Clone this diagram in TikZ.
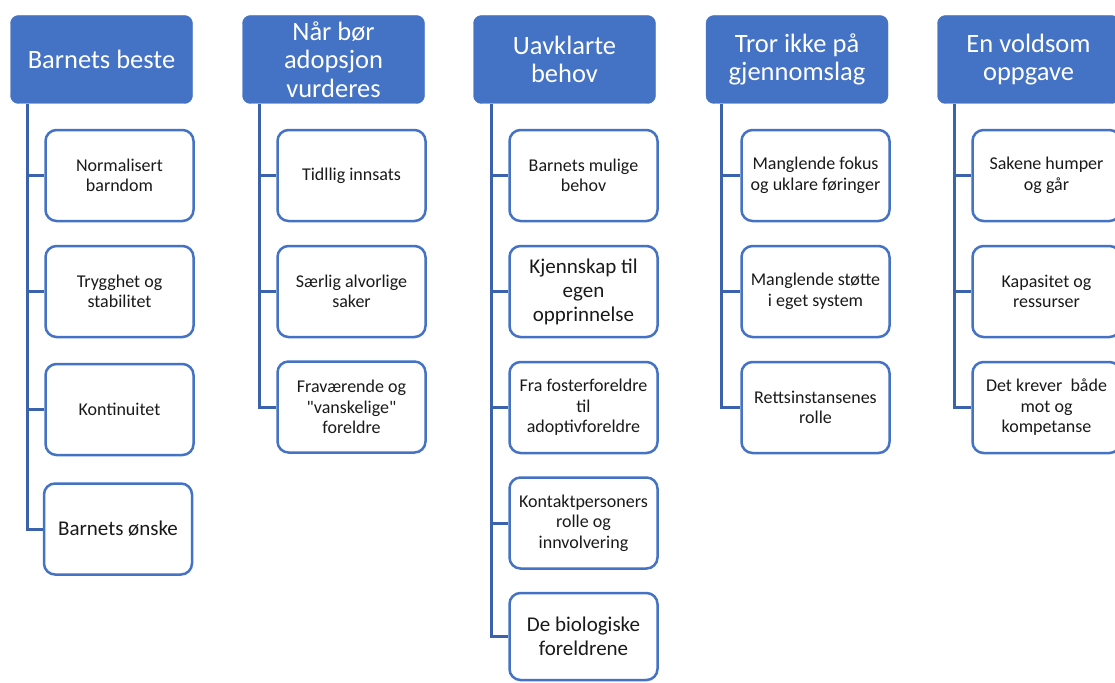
\documentclass[tikz,border=0pt]{standalone}
\usepackage{fontspec}
\setmainfont{Carlito}[Ligatures=TeXOff]
\usetikzlibrary{calc}
\definecolor{hdrblue}{HTML}{4472C4}
\definecolor{linkblue}{HTML}{3B63AD}
\definecolor{txt}{HTML}{1A1A1A}
\tikzset{
  hdr/.style={fill=hdrblue, draw=hdrblue, rounded corners=8pt, minimum width=182pt, minimum height=88pt, text=white, align=center, font=\fontsize{26.5}{28.5}\selectfont, inner sep=0pt},
  box/.style={draw=hdrblue, fill=white, line width=2.5pt, rounded corners=11pt, minimum width=148pt, minimum height=91pt, align=center, font=\fontsize{18}{20.5}\selectfont, inner sep=0pt, text=txt},
  bigbox/.style={box, font=\fontsize{21}{24}\selectfont},
  link/.style={draw=linkblue, line width=3pt},
}
\begin{document}
\begin{tikzpicture}[x=1pt,y=-1pt]
\useasboundingbox (0,0) rectangle (1115,682);
\clip (0,0) rectangle (1115,682);
\fill[white] (0,0) rectangle (1115,682);

% headers
\node[hdr] (h1) at (101.5,59.5) {Barnets beste};
\node[hdr] (h2) at (333.5,59.5) {Når bør\\adopsjon\\vurderes};
\node[hdr] (h3) at (564.5,59.5) {Uavklarte\\behov};
\node[hdr] (h4) at (797,59.5) {Tror ikke på\\gjennomslag};
\node[hdr] (h5) at (1028.5,59.5) {En voldsom\\oppgave};

% trunk tops
\coordinate (t1) at ($(h1.south west)+(17,0)$);
\coordinate (t2) at ($(h2.south west)+(17,0)$);
\coordinate (t3) at ($(h3.south west)+(18,0)$);
\coordinate (t4) at ($(h4.south west)+(16,0)$);
\coordinate (t5) at ($(h5.south west)+(17,0)$);

% column 1
\node[box] (b11) at (119.5,175.5) {Normalisert\\barndom};
\node[box] (b12) at (119.5,291.5) {Trygghet og\\stabilitet};
\node[box] (b13) at (119.5,409.5) {Kontinuitet};
\node[bigbox] (b14) at (118,529) {Barnets ønske};

% column 2
\node[box] (b21) at (351.5,175.5) {Tidllig innsats};
\node[box] (b22) at (351.5,291.5) {Særlig alvorlige\\saker};
\node[box] (b23) at (351.5,407) {Fraværende og\\"vanskelige"\\foreldre};

% column 3
\node[box] (b31) at (583.5,175.5) {Barnets mulige\\behov};
\node[bigbox] (b32) at (583.5,291.5) {Kjennskap til\\egen\\opprinnelse};
\node[box] (b33) at (583.5,407.5) {Fra fosterforeldre\\til\\adoptivforeldre};
\node[box] (b34) at (583.5,523) {Kontaktpersoners\\rolle og\\innvolvering};
\node[bigbox, minimum height=87pt] (b35) at (583.5,636.5) {De biologiske\\foreldrene};

% column 4
\node[box] (b41) at (815.5,175.5) {Manglende fokus\\og uklare føringer};
\node[box] (b42) at (815.5,291.5) {Manglende støtte\\i eget system};
\node[box] (b43) at (815.5,407.5) {Rettsinstansenes\\rolle};

% column 5
\node[box] (b51) at (1046.5,175.5) {Sakene humper\\og går};
\node[box] (b52) at (1046.5,291.5) {Kapasitet og\\ressurser};
\node[box] (b53) at (1046.5,407.5) {Det krever\ \ både\\mot og\\kompetanse};

% connectors
\draw[link] (t1) |- (b14.west);
\foreach \b in {b11,b12,b13} \draw[link] (t1 |- \b.west) -- (\b.west);
\draw[link] (t2) |- (b23.west);
\foreach \b in {b21,b22} \draw[link] (t2 |- \b.west) -- (\b.west);
\draw[link] (t3) |- (b35.west);
\foreach \b in {b31,b32,b33,b34} \draw[link] (t3 |- \b.west) -- (\b.west);
\draw[link] (t4) |- (b43.west);
\foreach \b in {b41,b42} \draw[link] (t4 |- \b.west) -- (\b.west);
\draw[link] (t5) |- (b53.west);
\foreach \b in {b51,b52} \draw[link] (t5 |- \b.west) -- (\b.west);
\end{tikzpicture}
\end{document}
